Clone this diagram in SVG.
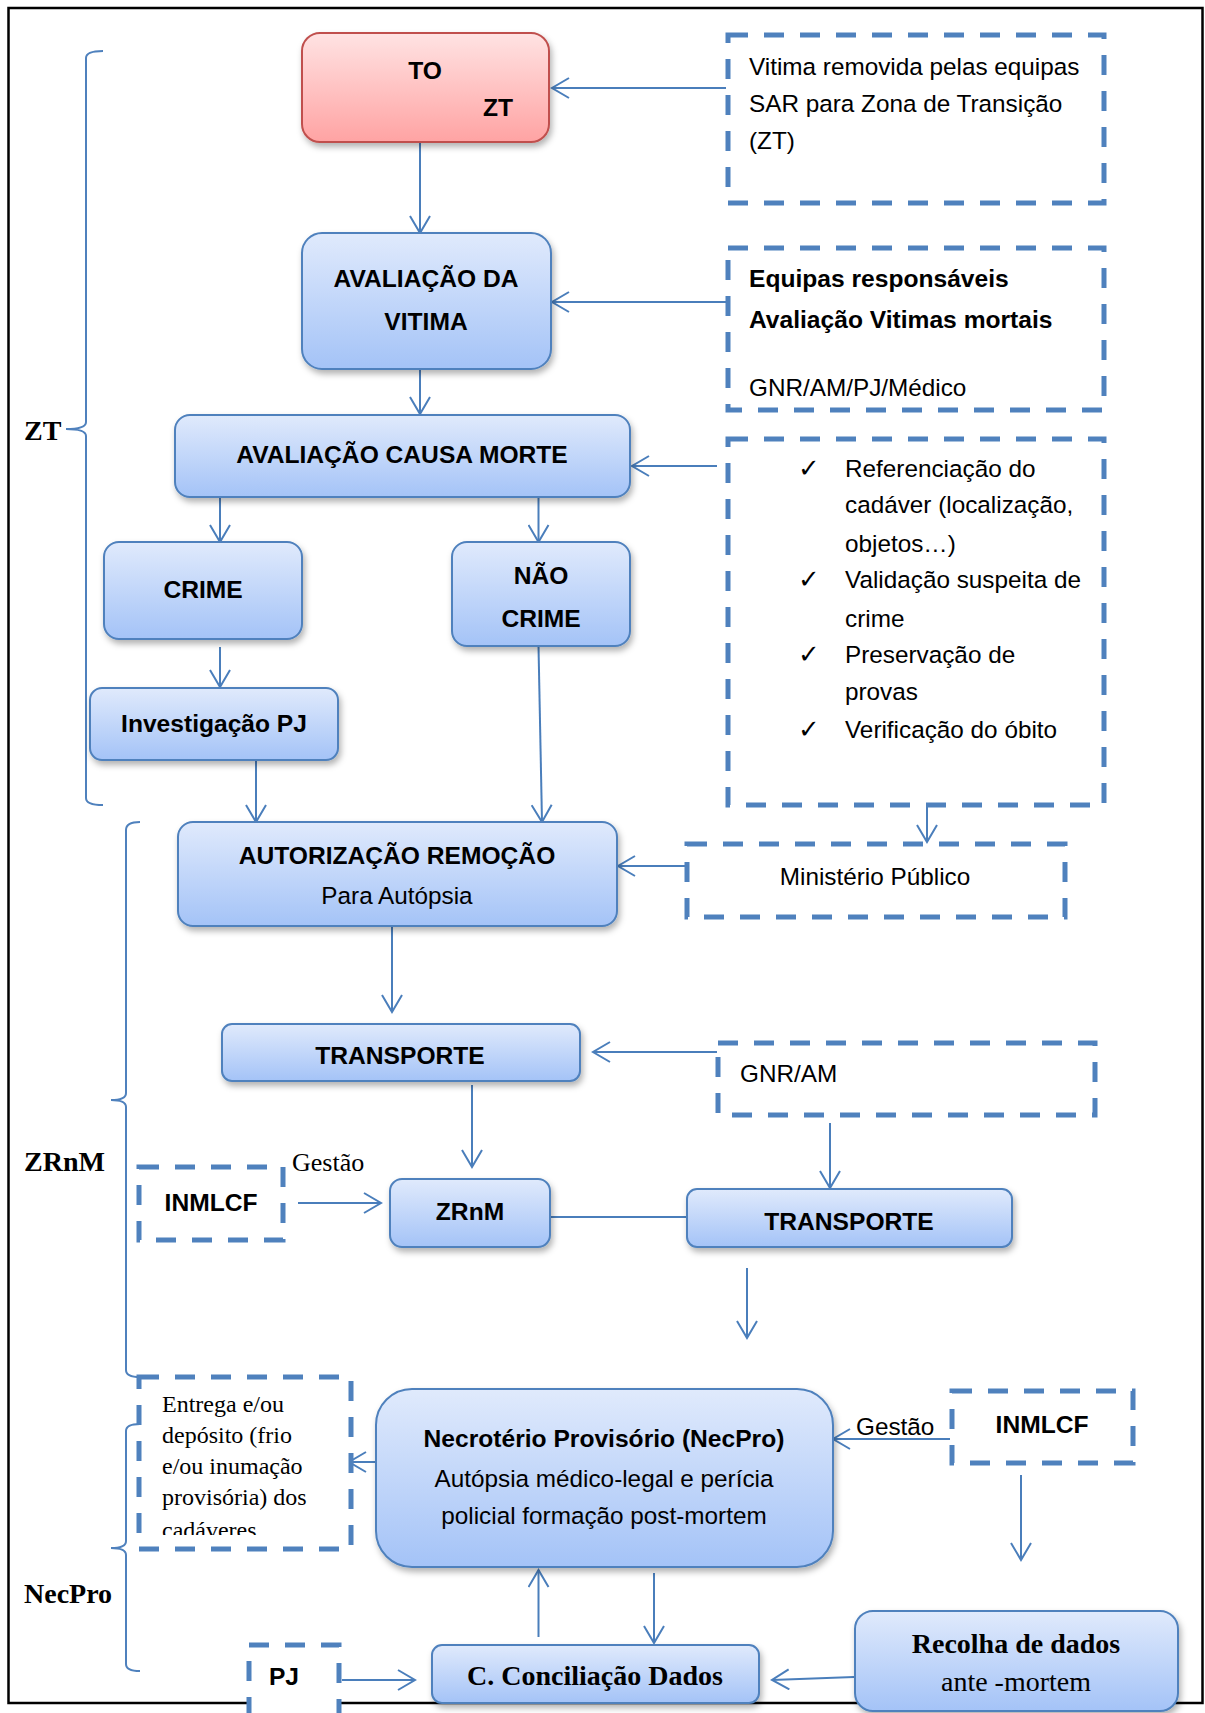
<svg xmlns="http://www.w3.org/2000/svg" width="1205" height="1713" viewBox="0 0 1205 1713">
<style>
.sans{font-family:"Liberation Sans",Arial,sans-serif;font-size:24.3px;fill:#000}
.b{font-weight:bold;font-size:24.6px}
.mid{text-anchor:middle}
.serif{font-family:"Liberation Serif","Times New Roman",serif;fill:#000}
.node{fill:url(#gb);stroke:#4f81bd;stroke-width:2;filter:url(#sh)}
.red{fill:url(#gr);stroke:#c0504d;stroke-width:2;filter:url(#sh)}
.dash{fill:#fff;stroke:#4f81bd;stroke-width:5;stroke-dasharray:20 16}
.con{fill:none;stroke:#4a7ebb;stroke-width:2}
.arr{marker-end:url(#ah)}
.brace{fill:none;stroke:#4f81bd;stroke-width:2}
.chk{font-family:"DejaVu Sans",sans-serif;font-size:26px;fill:#000}
</style>
<defs>
<linearGradient id="gb" x1="0" y1="0" x2="0" y2="1">
<stop offset="0" stop-color="#e0eafc"/>
<stop offset="1" stop-color="#a4c3f7"/>
</linearGradient>
<linearGradient id="gr" x1="0" y1="0" x2="0" y2="1">
<stop offset="0" stop-color="#ffe3e3"/>
<stop offset="1" stop-color="#ffa3a3"/>
</linearGradient>
<filter id="sh" x="-10%" y="-10%" width="125%" height="140%">
<feDropShadow dx="2" dy="4" stdDeviation="3" flood-color="#000" flood-opacity="0.3"/>
</filter>
<marker id="ah" markerUnits="userSpaceOnUse" viewBox="-19 -11 21 22" refX="0" refY="0" markerWidth="21" markerHeight="22" orient="auto">
<path d="M-17,-10 L0,0 L-17,10" fill="none" stroke="#4a7ebb" stroke-width="2"/>
</marker>
<clipPath id="clipEntrega"><rect x="140" y="1378" width="210" height="157"/></clipPath>
</defs>

<rect id="frame" x="8.5" y="8" width="1194" height="1695" fill="#fff" stroke="#000" stroke-width="2.5"/>

<g id="braces">
<path class="brace" d="M103,51 Q86,51 86,58 L86,422 Q86,429 66,429 Q86,429 86,436 L86,798 Q86,805 103,805"/>
<path class="brace" d="M140,822 Q126,822 126,830 L126,1093 Q126,1100 111,1100 Q126,1100 126,1107 L126,1370 Q126,1377 140,1377"/>
<path class="brace" d="M140,1424 Q126,1424 126,1431 L126,1541 Q126,1548 111,1548 Q126,1548 126,1555 L126,1664 Q126,1671 140,1671"/>
<text class="serif" font-weight="bold" x="24" y="440" font-size="28">ZT</text>
<text class="serif" font-weight="bold" x="24" y="1171" font-size="28">ZRnM</text>
<text class="serif" font-weight="bold" x="24" y="1603" font-size="28">NecPro</text>
</g>

<g id="connectors">
<line class="con arr" x1="726" y1="88" x2="552" y2="88"/>
<line class="con arr" x1="420" y1="142" x2="420" y2="233"/>
<line class="con arr" x1="726" y1="302" x2="552" y2="302"/>
<line class="con arr" x1="420" y1="333" x2="420" y2="414"/>
<line class="con arr" x1="717" y1="466" x2="632" y2="466"/>
<line class="con arr" x1="220" y1="494" x2="220" y2="542"/>
<line class="con arr" x1="538.5" y1="494" x2="538.5" y2="542"/>
<line class="con arr" x1="220" y1="647" x2="220" y2="687"/>
<line class="con arr" x1="256" y1="760" x2="256" y2="822"/>
<line class="con arr" x1="538.5" y1="646" x2="542" y2="822"/>
<line class="con arr" x1="927" y1="803" x2="927" y2="842"/>
<line class="con arr" x1="686" y1="866" x2="618" y2="866"/>
<line class="con arr" x1="392" y1="926" x2="392" y2="1012"/>
<line class="con arr" x1="717" y1="1052" x2="593" y2="1052"/>
<line class="con arr" x1="472" y1="1085" x2="472" y2="1167"/>
<line class="con arr" x1="830" y1="1123" x2="830" y2="1188"/>
<line class="con arr" x1="298" y1="1203" x2="381" y2="1203"/>
<line class="con" x1="550" y1="1217" x2="687" y2="1217"/>
<line class="con arr" x1="747" y1="1268" x2="747" y2="1338"/>
<line class="con arr" x1="376" y1="1462" x2="349" y2="1462"/>
<line class="con arr" x1="950" y1="1439" x2="833" y2="1439"/>
<line class="con arr" x1="1021" y1="1475" x2="1021" y2="1560"/>
<line class="con arr" x1="654" y1="1573" x2="654" y2="1643"/>
<line class="con arr" x1="538.5" y1="1637" x2="538.5" y2="1570"/>
<line class="con arr" x1="342" y1="1680" x2="415" y2="1680"/>
<line class="con arr" x1="854" y1="1677" x2="772" y2="1680"/>
<text class="serif" x="292" y="1171" font-size="26">Gestão</text>
<text class="sans" x="856" y="1435" font-size="23">Gestão</text>
</g>

<g id="n_to">
<rect class="red" x="302" y="33" width="247" height="109" rx="18"/>
<text class="sans b mid" x="425" y="79">TO</text>
<text class="sans b mid" x="498" y="116">ZT</text>
</g>

<g id="n_vitima_removida">
<rect class="dash" x="728" y="35" width="376" height="168"/>
<text class="sans" x="749" y="75">Vitima removida pelas equipas</text>
<text class="sans" x="749" y="112">SAR para Zona de Transição</text>
<text class="sans" x="749" y="149">(ZT)</text>
</g>

<g id="n_avaliacao_vitima">
<rect class="node" x="302" y="233" width="249" height="136" rx="20"/>
<text class="sans b mid" x="426" y="287">AVALIAÇÃO DA</text>
<text class="sans b mid" x="426" y="330">VITIMA</text>
</g>

<g id="n_equipas">
<rect class="dash" x="728" y="248" width="376" height="162"/>
<text class="sans b" x="749" y="287">Equipas responsáveis</text>
<text class="sans b" x="749" y="328">Avaliação Vitimas mortais</text>
<text class="sans" x="749" y="396">GNR/AM/PJ/Médico</text>
</g>

<g id="n_causa_morte">
<rect class="node" x="175" y="415" width="455" height="82" rx="15"/>
<text class="sans b mid" x="402" y="463">AVALIAÇÃO CAUSA MORTE</text>
</g>

<g id="n_checklist">
<rect class="dash" x="728" y="439" width="376" height="366"/>
<text class="chk" x="798" y="477">✓</text>
<text class="sans" x="845" y="477">Referenciação do</text>
<text class="sans" x="845" y="513">cadáver (localização,</text>
<text class="sans" x="845" y="552">objetos…)</text>
<text class="chk" x="798" y="588">✓</text>
<text class="sans" x="845" y="588">Validação suspeita de</text>
<text class="sans" x="845" y="627">crime</text>
<text class="chk" x="798" y="663">✓</text>
<text class="sans" x="845" y="663">Preservação de</text>
<text class="sans" x="845" y="700">provas</text>
<text class="chk" x="798" y="738">✓</text>
<text class="sans" x="845" y="738">Verificação do óbito</text>
</g>

<g id="n_crime">
<rect class="node" x="104" y="542" width="198" height="97" rx="15"/>
<text class="sans b mid" x="203" y="598">CRIME</text>
</g>

<g id="n_nao_crime">
<rect class="node" x="452" y="542" width="178" height="104" rx="15"/>
<text class="sans b mid" x="541" y="584">NÃO</text>
<text class="sans b mid" x="541" y="627">CRIME</text>
</g>

<g id="n_investigacao">
<rect class="node" x="90" y="688" width="248" height="72" rx="12"/>
<text class="sans b mid" x="214" y="732">Investigação PJ</text>
</g>

<g id="n_autorizacao">
<rect class="node" x="178" y="822" width="439" height="104" rx="15"/>
<text class="sans b mid" x="397" y="864">AUTORIZAÇÃO REMOÇÃO</text>
<text class="sans mid" x="397" y="904">Para Autópsia</text>
</g>

<g id="n_ministerio">
<rect class="dash" x="687" y="844" width="378" height="73"/>
<text class="sans mid" x="875" y="885">Ministério Público</text>
</g>

<g id="n_transporte1">
<rect class="node" x="222" y="1024" width="358" height="57" rx="10"/>
<text class="sans b mid" x="400" y="1064">TRANSPORTE</text>
</g>

<g id="n_gnr_am">
<rect class="dash" x="718" y="1043" width="377" height="72"/>
<text class="sans" x="740" y="1082">GNR/AM</text>
</g>

<g id="n_inmlcf1">
<rect class="dash" x="139" y="1167" width="144" height="73"/>
<text class="sans b mid" x="211" y="1211">INMLCF</text>
</g>

<g id="n_zrnm">
<rect class="node" x="390" y="1179" width="160" height="68" rx="12"/>
<text class="sans b mid" x="470" y="1220">ZRnM</text>
</g>

<g id="n_transporte2">
<rect class="node" x="687" y="1189" width="325" height="58" rx="10"/>
<text class="sans b mid" x="849" y="1230">TRANSPORTE</text>
</g>

<g id="n_entrega">
<rect class="dash" x="139" y="1377" width="212" height="172"/>
<g clip-path="url(#clipEntrega)">
<text class="serif" x="162" y="1412" font-size="24">Entrega e/ou</text>
<text class="serif" x="162" y="1443" font-size="24">depósito (frio</text>
<text class="serif" x="162" y="1474" font-size="24">e/ou inumação</text>
<text class="serif" x="162" y="1505" font-size="24">provisória) dos</text>
<text class="serif" x="162" y="1538" font-size="24">cadáveres</text>
</g>
</g>

<g id="n_necpro">
<rect class="node" x="376" y="1389" width="457" height="178" rx="36"/>
<text class="sans b mid" x="604" y="1447">Necrotério Provisório (NecPro)</text>
<text class="sans mid" x="604" y="1487">Autópsia médico-legal e perícia</text>
<text class="sans mid" x="604" y="1524">policial formação post-mortem</text>
</g>

<g id="n_inmlcf2">
<rect class="dash" x="952" y="1391" width="181" height="72"/>
<text class="sans b mid" x="1042" y="1433">INMLCF</text>
</g>

<g id="n_recolha">
<rect class="node" x="855" y="1611" width="323" height="100" rx="18"/>
<text class="serif mid" font-weight="bold" x="1016" y="1653" font-size="28">Recolha de dados</text>
<text class="serif mid" x="1016" y="1691" font-size="28">ante -mortem</text>
</g>

<g id="n_pj">
<rect class="dash" x="249" y="1645" width="90" height="72"/>
<text class="sans b mid" x="284" y="1685">PJ</text>
</g>

<g id="n_conciliacao">
<rect class="node" x="432" y="1645" width="327" height="58" rx="10"/>
<text class="serif mid" font-weight="bold" x="595" y="1685" font-size="28">C. Conciliação Dados</text>
</g>
</svg>
